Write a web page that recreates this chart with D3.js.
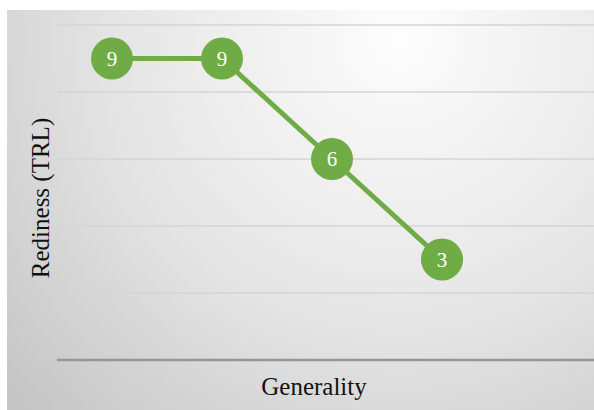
<!DOCTYPE html>
<html>
<head>
<meta charset="utf-8">
<script src="https://cdn.jsdelivr.net/npm/d3@7"></script>
<style>
  body { margin: 0; background: #fff; }
  svg { display: block; }
</style>
</head>
<body>
<div id="chart"></div>
<script>
// chart data
var categories = ["A", "B", "C", "D", "E"];
var readiness = [9, 9, 6, 3];
var yTicks = [0, 2, 4, 6, 8, 10];

var svgWidth = 594;
var svgHeight = 410;

var svg = d3.select("#chart")
  .append("svg")
  .attr("width", svgWidth)
  .attr("height", svgHeight);

// background gradient
var defs = svg.append("defs");
var grad = defs.append("radialGradient")
  .attr("id", "bg")
  .attr("gradientUnits", "userSpaceOnUse")
  .attr("cx", 400).attr("cy", 40)
  .attr("r", 520);
grad.append("stop").attr("offset", "0%").attr("stop-color", "#fdfdfd");
grad.append("stop").attr("offset", "55%").attr("stop-color", "#e5e5e5");
grad.append("stop").attr("offset", "100%").attr("stop-color", "#c6c6c6");

svg.append("rect")
  .attr("x", 7).attr("y", 10)
  .attr("width", svgWidth - 7)
  .attr("height", svgHeight - 10)
  .attr("fill", "url(#bg)");

var x = d3.scaleBand()
  .domain(categories)
  .range([57, 607]);

var y = d3.scaleLinear()
  .domain([0, 10])
  .range([360, 25]);

// gridlines
svg.append("g")
  .selectAll("line")
  .data(yTicks)
  .enter()
  .append("line")
  .attr("x1", 57)
  .attr("x2", svgWidth)
  .attr("y1", d => y(d))
  .attr("y2", d => y(d))
  .attr("stroke", d => d === 0 ? "#969696" : "#d4d4d4")
  .attr("stroke-width", d => d === 0 ? 2.5 : 1.5);

var pts = readiness.map((v, i) => ({ cat: categories[i], value: v }));

var line = d3.line()
  .x(d => x(d.cat) + x.bandwidth() / 2)
  .y(d => y(d.value));

svg.append("path")
  .datum(pts)
  .attr("d", line)
  .attr("fill", "none")
  .attr("stroke", "#6fac46")
  .attr("stroke-width", 5);

var markers = svg.append("g")
  .selectAll("g")
  .data(pts)
  .enter()
  .append("g")
  .attr("transform", d => `translate(${x(d.cat) + x.bandwidth() / 2}, ${y(d.value)})`);

markers.append("circle")
  .attr("r", 21)
  .attr("fill", "#6fac46");

markers.append("text")
  .attr("text-anchor", "middle")
  .attr("dy", "0.35em")
  .style("font-family", "'Liberation Serif', 'Times New Roman', serif")
  .style("font-size", "21px")
  .style("fill", "white")
  .text(d => d.value);

// axis titles
svg.append("text")
  .attr("transform", "translate(49, 198) rotate(-90)")
  .attr("text-anchor", "middle")
  .style("font-family", "'Liberation Serif', 'Times New Roman', serif")
  .style("font-size", "25px")
  .style("fill", "#111")
  .text("Rediness (TRL)");

svg.append("text")
  .attr("x", 314)
  .attr("y", 395)
  .attr("text-anchor", "middle")
  .style("font-family", "'Liberation Serif', 'Times New Roman', serif")
  .style("font-size", "25px")
  .style("fill", "#111")
  .text("Generality");
</script>
</body>
</html>
